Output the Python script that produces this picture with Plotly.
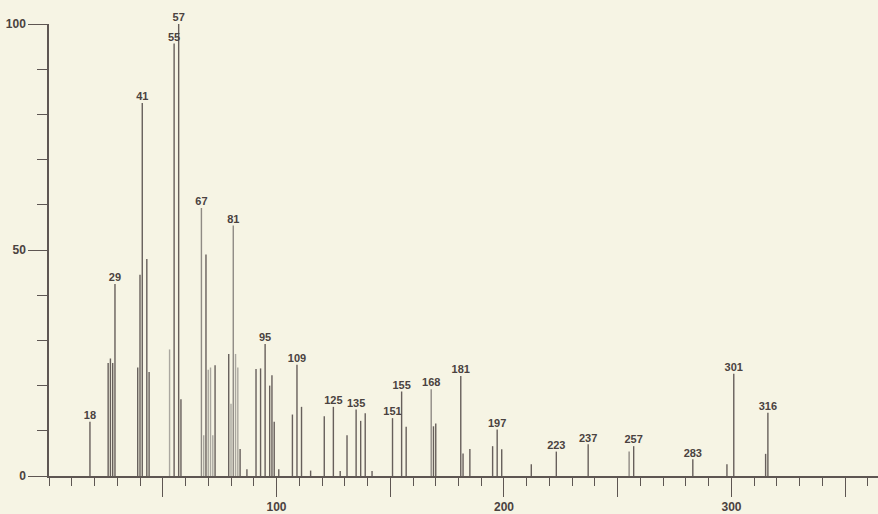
import plotly.graph_objects as go

# ---- data (m/z and relative intensity) ----
mz = [18, 26, 27, 28, 29, 39, 40, 41, 43, 44, 53, 55, 57, 58,
      67, 68, 69, 70, 71, 72, 73, 79, 80, 81, 82, 83, 84, 87,
      91, 93, 95, 97, 98, 99, 101, 107, 109, 111, 115, 121, 125,
      128, 131, 135, 137, 139, 142, 151, 155, 157, 168, 169, 170,
      181, 182, 185, 195, 197, 199, 212, 223, 237, 255, 257, 283,
      298, 301, 315, 316]
intensity = [12, 25, 26, 25, 42.5, 24, 44.5, 82.5, 48, 23, 28, 95.7, 100, 17,
             59.3, 9, 49, 23.5, 24, 9, 24.5, 27, 16, 55.4, 27, 24, 6, 1.5,
             23.7, 23.8, 29.2, 20, 22.3, 12, 1.5, 13.6, 24.6, 15.3, 1.2, 13.2, 15.3,
             1.1, 9, 14.7, 12.2, 13.9, 1.1, 12.8, 18.7, 10.9, 19.2, 11, 11.6,
             22.1, 5, 6, 6.6, 10.3, 5.9, 2.6, 5.4, 7, 5.4, 6.6, 3.7,
             2.6, 22.6, 4.9, 14]
labelled = [18, 29, 41, 55, 57, 67, 81, 95, 109, 125, 135, 151, 155, 168,
            181, 197, 223, 237, 257, 283, 301, 316]
x_tick_values = [50, 100, 150, 200, 250, 300, 350]
x_tick_text = ["", "100", "", "200", "", "300", ""]
y_tick_values = [0, 50, 100]
y_tick_text = ["0", "50", "100"]

# ---- style ----
BG = "#f6f4e4"
INK = "#5e5652"
TEXT = "#4a4240"
light_peaks = {53, 68, 70, 71, 72, 80, 82, 83}
mid_peaks = {67, 81, 168, 255}

lookup = dict(zip(mz, intensity))


def sticks(selector):
    xs, ys = [], []
    for m, v in zip(mz, intensity):
        if selector(m):
            xs += [m, m, None]
            ys += [0, v, None]
    return xs, ys


fig = go.Figure()
groups = [
    (lambda m: m not in light_peaks and m not in mid_peaks, "#675f5b"),
    (lambda m: m in mid_peaks, "#8f8a84"),
    (lambda m: m in light_peaks, "#aaa79f"),
]
for sel, col in groups:
    xs, ys = sticks(sel)
    fig.add_trace(go.Scatter(x=xs, y=ys, mode="lines",
                             line=dict(color=col, width=1.4),
                             hoverinfo="skip", showlegend=False))

fig.add_trace(go.Scatter(
    x=labelled, y=[lookup[m] for m in labelled],
    mode="text", text=[str(m) for m in labelled],
    textposition="top center",
    textfont=dict(family="Liberation Sans, Arial, sans-serif", size=11,
                  color=TEXT, weight="bold"),
    cliponaxis=False, showlegend=False, hoverinfo="skip"))

fig.update_layout(
    width=878, height=514,
    margin=dict(l=49, r=0, t=24, b=38),
    paper_bgcolor=BG, plot_bgcolor=BG,
    font=dict(family="Liberation Sans, Arial, sans-serif", size=12,
              color=TEXT, weight="bold"),
    xaxis=dict(range=[0, 364.4], showline=True, linecolor=INK, linewidth=1.5,
               showgrid=False, zeroline=False,
               tickmode="array", tickvals=x_tick_values, ticktext=x_tick_text,
               ticks="outside", ticklen=19, tickwidth=1.2, tickcolor=INK,
               minor=dict(dtick=10, tick0=0, ticks="outside", ticklen=8,
                          tickwidth=1.2, tickcolor=INK, showgrid=False)),
    yaxis=dict(range=[0, 100], showline=True, linecolor=INK, linewidth=1.5,
               showgrid=False, zeroline=False,
               tickmode="array", tickvals=y_tick_values, ticktext=y_tick_text,
               ticks="outside", ticklen=19, tickwidth=1.2, tickcolor=INK,
               minor=dict(dtick=10, tick0=0, ticks="outside", ticklen=10,
                          tickwidth=1.2, tickcolor=INK, showgrid=False)),
)

fig.write_html(
    "out.html",
    config={"displayModeBar": False},
    post_script="document.body.style.margin='0';"
                "document.body.style.background='" + BG + "';"
                "document.body.style.overflow='hidden';",
)
